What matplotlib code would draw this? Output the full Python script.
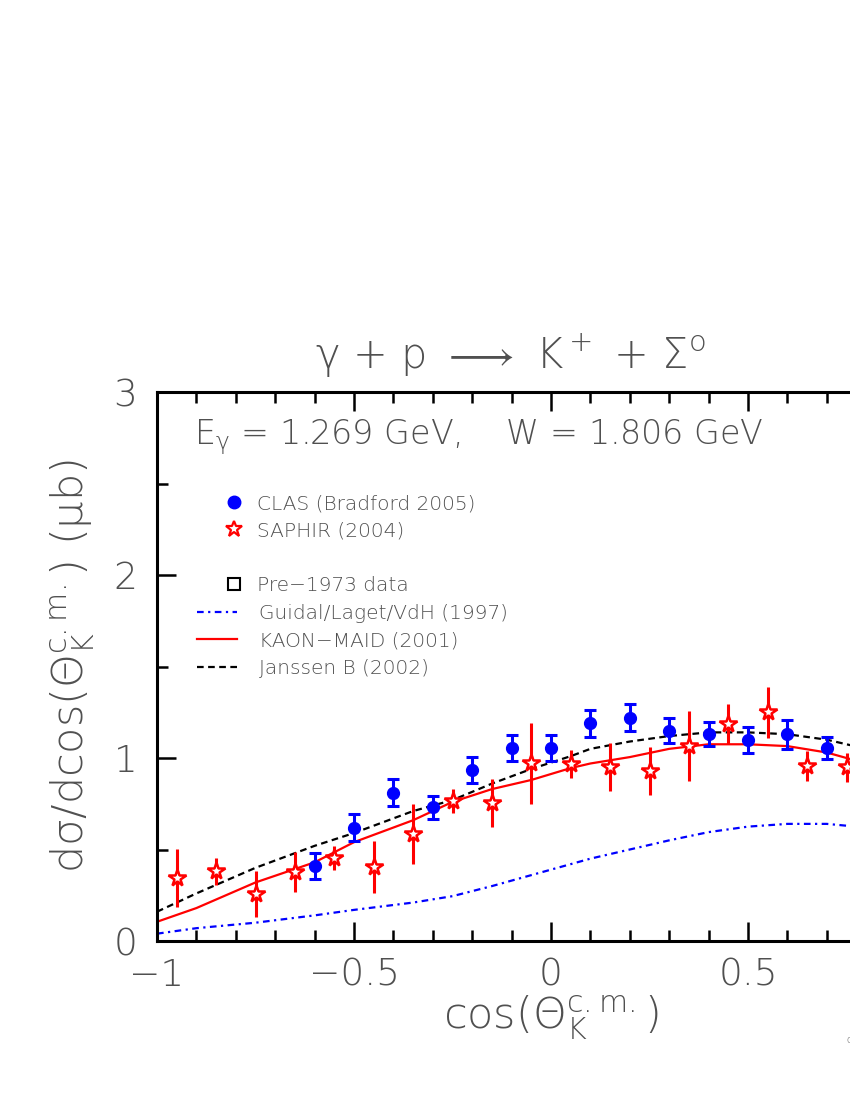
import numpy as np
import matplotlib.pyplot as plt
from matplotlib.lines import Line2D

plt.rcParams['font.family'] = ['DejaVu Sans']
plt.rcParams['font.weight'] = 'light'
plt.rcParams['axes.labelweight'] = 'light'
plt.rcParams['mathtext.fontset'] = 'custom'
plt.rcParams['mathtext.rm'] = 'DejaVu Sans:light'
plt.rcParams['mathtext.it'] = 'DejaVu Sans:light'
txtcol = '#505050'

### DATA ######################################################################
# CLAS (Bradford 2005)
clas_x   = [-0.6, -0.5, -0.4, -0.3, -0.2, -0.1, 0.0, 0.1, 0.2, 0.3, 0.4, 0.5, 0.6, 0.7]
clas_y   = [0.41, 0.62, 0.81, 0.73, 0.935, 1.055, 1.055, 1.19, 1.22, 1.15, 1.13, 1.10, 1.13, 1.055]
clas_err = [0.07, 0.075, 0.075, 0.065, 0.07, 0.072, 0.072, 0.075, 0.073, 0.07, 0.065, 0.07, 0.08, 0.06]

# SAPHIR (2004)
saph_x   = [-0.95, -0.85, -0.75, -0.65, -0.55, -0.45, -0.35, -0.25, -0.15, -0.05,
            0.05, 0.15, 0.25, 0.35, 0.45, 0.55, 0.65, 0.75]
saph_y   = [0.344, 0.38, 0.257, 0.377, 0.453, 0.405, 0.585, 0.765, 0.755, 0.97,
            0.965, 0.95, 0.93, 1.065, 1.185, 1.25, 0.956, 0.95]
saph_err = [0.16, 0.074, 0.125, 0.11, 0.066, 0.14, 0.165, 0.065, 0.13, 0.22,
            0.077, 0.13, 0.13, 0.19, 0.11, 0.14, 0.08, 0.08]

# model curves
mod_x   = [-1.0, -0.9, -0.75, -0.6, -0.5, -0.35, -0.25, -0.15, -0.05, 0.05, 0.1,
           0.2, 0.3, 0.4, 0.5, 0.6, 0.7, 0.8, 0.9, 1.0]
guidal  = [0.04, 0.07, 0.10, 0.14, 0.17, 0.21, 0.245, 0.30, 0.36, 0.42, 0.45,
           0.50, 0.55, 0.595, 0.625, 0.64, 0.64, 0.62, 0.58, 0.52]
maid    = [0.105, 0.18, 0.32, 0.43, 0.54, 0.66, 0.76, 0.83, 0.88, 0.945, 0.97,
           1.005, 1.05, 1.075, 1.075, 1.065, 1.03, 0.97, 0.88, 0.76]
janssen = [0.16, 0.26, 0.40, 0.52, 0.59, 0.71, 0.77, 0.86, 0.94, 1.01, 1.05,
           1.09, 1.12, 1.14, 1.14, 1.13, 1.10, 1.05, 0.97, 0.86]
###############################################################################

fig = plt.figure(figsize=(8.5, 11), dpi=100)
ax = fig.add_axes([157/850, 1 - 941/1100, 788/850, 549/1100])

ax.plot(mod_x, guidal, color='blue', lw=1.6, linestyle=(0, (3, 2, 1, 2)))
ax.plot(mod_x, maid, color='red', lw=1.6)
ax.plot(mod_x, janssen, color='black', lw=1.6, linestyle=(0, (3, 2)))

ax.errorbar(saph_x, saph_y, yerr=saph_err, fmt='none', ecolor='red', elinewidth=2.2)
ax.plot(saph_x, saph_y, linestyle='none', marker='*', markersize=13,
        markerfacecolor='white', markeredgecolor='red', markeredgewidth=1.8)
ax.errorbar(clas_x, clas_y, yerr=clas_err, fmt='o', color='blue', markersize=8.5,
            elinewidth=2.2, capsize=4, capthick=2.2)

ax.set_xlim(-1, 1)
ax.set_ylim(0, 3)
ax.set_xticks([-1, -0.5, 0, 0.5, 1])
ax.set_xticklabels(['\u22121', '\u22120.5', '0', '0.5', ''])
ax.set_xticks(np.arange(-1, 1.01, 0.1), minor=True)
ax.set_yticks([0, 1, 2, 3])
ax.set_yticks(np.arange(0, 3.01, 0.5), minor=True)
ax.tick_params(which='both', direction='in', top=True, right=True, width=1.8,
               labelsize=27, labelcolor=txtcol)
ax.tick_params(axis='x', pad=12)
ax.tick_params(axis='y', pad=14)
ax.tick_params(which='major', length=14)
ax.tick_params(which='minor', length=8)
for s in ax.spines.values():
    s.set_linewidth(2.2)

ax.set_xlabel(r'cos($\Theta_{\mathrm{K}}^{\mathrm{c.m.}}$)', fontsize=31,
              color=txtcol, labelpad=0, fontweight='light')
ax.set_ylabel(r'd$\mathrm{\sigma}$/dcos($\Theta_{\mathrm{K}}^{\mathrm{c.m.}}$) ($\mathrm{\mu}$b)',
              fontsize=31, color=txtcol, labelpad=12, fontweight='light')

fig.text(510/850, 1 - 355/1100,
         r'$\mathrm{\gamma}$ + p $\longrightarrow$ K$^+$ + $\Sigma^{\mathrm{o}}$',
         fontsize=30, color=txtcol, ha='center', va='center')
ax.text(-0.905, 2.755, r'E$_{\mathrm{\gamma}}$ = 1.269 GeV,    W = 1.806 GeV', fontsize=24,
        color=txtcol, ha='left', va='center')

h1 = [Line2D([], [], linestyle='none', marker='o', color='blue', markersize=9),
      Line2D([], [], linestyle='none', marker='*', markersize=12, markerfacecolor='white',
             markeredgecolor='red', markeredgewidth=1.6),
      Line2D([], [], linestyle='none'),
      Line2D([], [], linestyle='none', marker='s', markersize=8, markerfacecolor='white',
             markeredgecolor='black', markeredgewidth=1.5)]
l1 = ['CLAS (Bradford 2005)', 'SAPHIR (2004)', '', 'Pre\u22121973 data']
leg1 = fig.legend(h1, l1, loc='upper left', bbox_to_anchor=(226/850, 1 - 494/1100),
                  frameon=False, fontsize=14.5, handlelength=0.8, handletextpad=0.75,
                  labelspacing=0.42, borderpad=0, borderaxespad=0, labelcolor=txtcol)

h2 = [Line2D([], [], color='blue', lw=1.6, linestyle=(0, (3, 2, 1, 2))),
      Line2D([], [], color='red', lw=1.6),
      Line2D([], [], color='black', lw=1.6, linestyle=(0, (3, 2)))]
l2 = ['Guidal/Laget/VdH (1997)', 'KAON\u2212MAID (2001)', 'Janssen B (2002)']
leg2 = fig.legend(h2, l2, loc='upper left', bbox_to_anchor=(197/850, 1 - 604/1100),
                  frameon=False, fontsize=14.5, handlelength=2.0, handletextpad=1.1,
                  labelspacing=0.42, borderpad=0, borderaxespad=0, labelcolor=txtcol)

fig.text(846/850, 1 - 1040/1100, 'c', fontsize=7, color=txtcol, ha='left', va='center')

fig.savefig('out.png', dpi=100)
